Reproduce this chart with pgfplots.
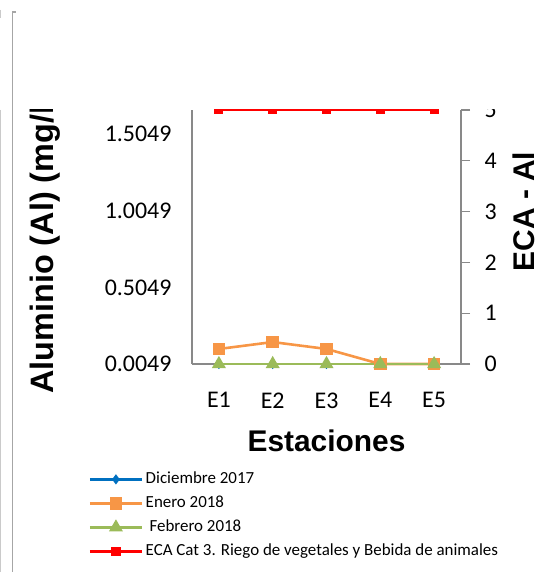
\documentclass[border=0pt]{standalone}
\usepackage{pgfplots}
\pgfplotsset{compat=1.18}
\usepackage{fontspec}
\setmainfont{Carlito}
\newfontfamily\arial{Liberation Sans}
\definecolor{dic}{HTML}{0070C0}
\definecolor{ene}{HTML}{F79646}
\definecolor{feb}{HTML}{9BBB59}
\definecolor{axgray}{HTML}{898989}
\definecolor{frame}{HTML}{A6A6A6}
\begin{document}
\begin{tikzpicture}
  \useasboundingbox (0bp,0bp) rectangle (550bp,572bp);
  % border fragments of the clipped chart
  \draw[frame,line width=1.2bp] (16bp,560bp) -- (12.5bp,560bp) -- (12.5bp,0bp);
  \draw[frame!60,line width=1bp] (0.5bp,562bp) -- (0.5bp,554bp);
  \draw[frame!60,line width=1bp] (0.5bp,462bp) -- (0.5bp,0bp);
  \begin{scope}
  \clip (0bp,0bp) rectangle (550bp,462bp);
  \begin{axis}[
      at={(192bp,208bp)}, anchor=south west,
      scale only axis, width=269bp, height=254bp,
      xmin=0.5, xmax=5.5,
      ymin=0.0049, ymax=1.6616,
      xtick={1,2,3,4,5},
      xticklabels={E1,E2,E3,E4,E5},
      ytick={0.0049,0.5049,1.0049,1.5049},
      yticklabels={0.0049,0.5049,1.0049,1.5049},
      axis lines*=left,
      axis line style={axgray,line width=1.2bp},
      major tick length=0pt,
      tick label style={font=\fontsize{24}{28}\selectfont},
      xticklabel style={yshift=-25bp},
      yticklabel style={xshift=-17bp},
      xlabel={\arial\bfseries Estaciones},
      xlabel style={at={(axis description cs:0.5,-0.302)}, anchor=center,
        font=\fontsize{30}{34}\selectfont},
      ylabel={\arial\bfseries Aluminio (Al) (mg/l)},
      ylabel style={at={(axis description cs:-0.546,-0.13)}, anchor=west,
        rotate=0, font=\fontsize{32.5}{36}\selectfont},
      legend style={
          at={(axis description cs:-0.385,-0.42)}, anchor=north west,
          draw=none, fill=none, inner sep=0pt,
          font=\fontsize{17}{20}\selectfont,
          nodes={inner xsep=2.5bp, inner ysep=0pt, text height=13bp, text depth=4bp},
          row sep=7bp
        },
      legend cell align=left,
      legend image code/.code={%
          \draw[mark repeat=2,mark phase=2,#1]
            plot coordinates {(0bp,0bp) (26bp,0bp) (52bp,0bp)};
        },
      clip=false,
    ]
    \addplot[dic, line width=2.6bp, mark=diamond*, mark size=3bp]
      coordinates {(1,0.0049) (2,0.0049) (3,0.0049) (4,0.0049) (5,0.0049)};
    \addlegendentry{Diciembre 2017}
    \addplot[ene, line width=2.6bp, mark=square*, mark size=5bp]
      coordinates {(1,0.103) (2,0.148) (3,0.103) (4,0.0049) (5,0.0049)};
    \addlegendentry{Enero 2018}
    \addplot[feb, line width=2.6bp, mark=triangle*, mark size=5.5bp]
      coordinates {(1,0.0049) (2,0.0049) (3,0.0049) (4,0.0049) (5,0.0049)};
    \addlegendentry{\ Febrero 2018}
    \addlegendimage{red, line width=2.6bp, mark=square*, mark size=3.5bp}
    \addlegendentry{ECA Cat 3. Riego de vegetales y Bebida de animales}
  \end{axis}
  \begin{axis}[
      at={(192bp,208bp)}, anchor=south west,
      scale only axis, width=269bp, height=254bp,
      xmin=0.5, xmax=5.5,
      ymin=0, ymax=5,
      ytick={0,1,2,3,4,5},
      axis x line=none,
      axis y line*=right,
      axis line style={axgray,line width=1.2bp},
      y tick style={axgray,line width=1.2bp},
      tick align=outside,
      major tick length=9bp,
      /pgf/number format/assume math mode=true,
      tick label style={font=\fontsize{24}{28}\selectfont},
      yticklabel style={xshift=11bp},
      ylabel={\arial\bfseries ECA - Al},
      ylabel style={at={(axis description cs:1.232,0.60)}, anchor=center,
        font=\fontsize{30}{34}\selectfont},
    ]
    \addplot[red, line width=2bp, mark=square*, mark size=3.5bp]
      coordinates {(1,5) (2,5) (3,5) (4,5) (5,5)};
  \end{axis}
  \end{scope}
\end{tikzpicture}
\end{document}
